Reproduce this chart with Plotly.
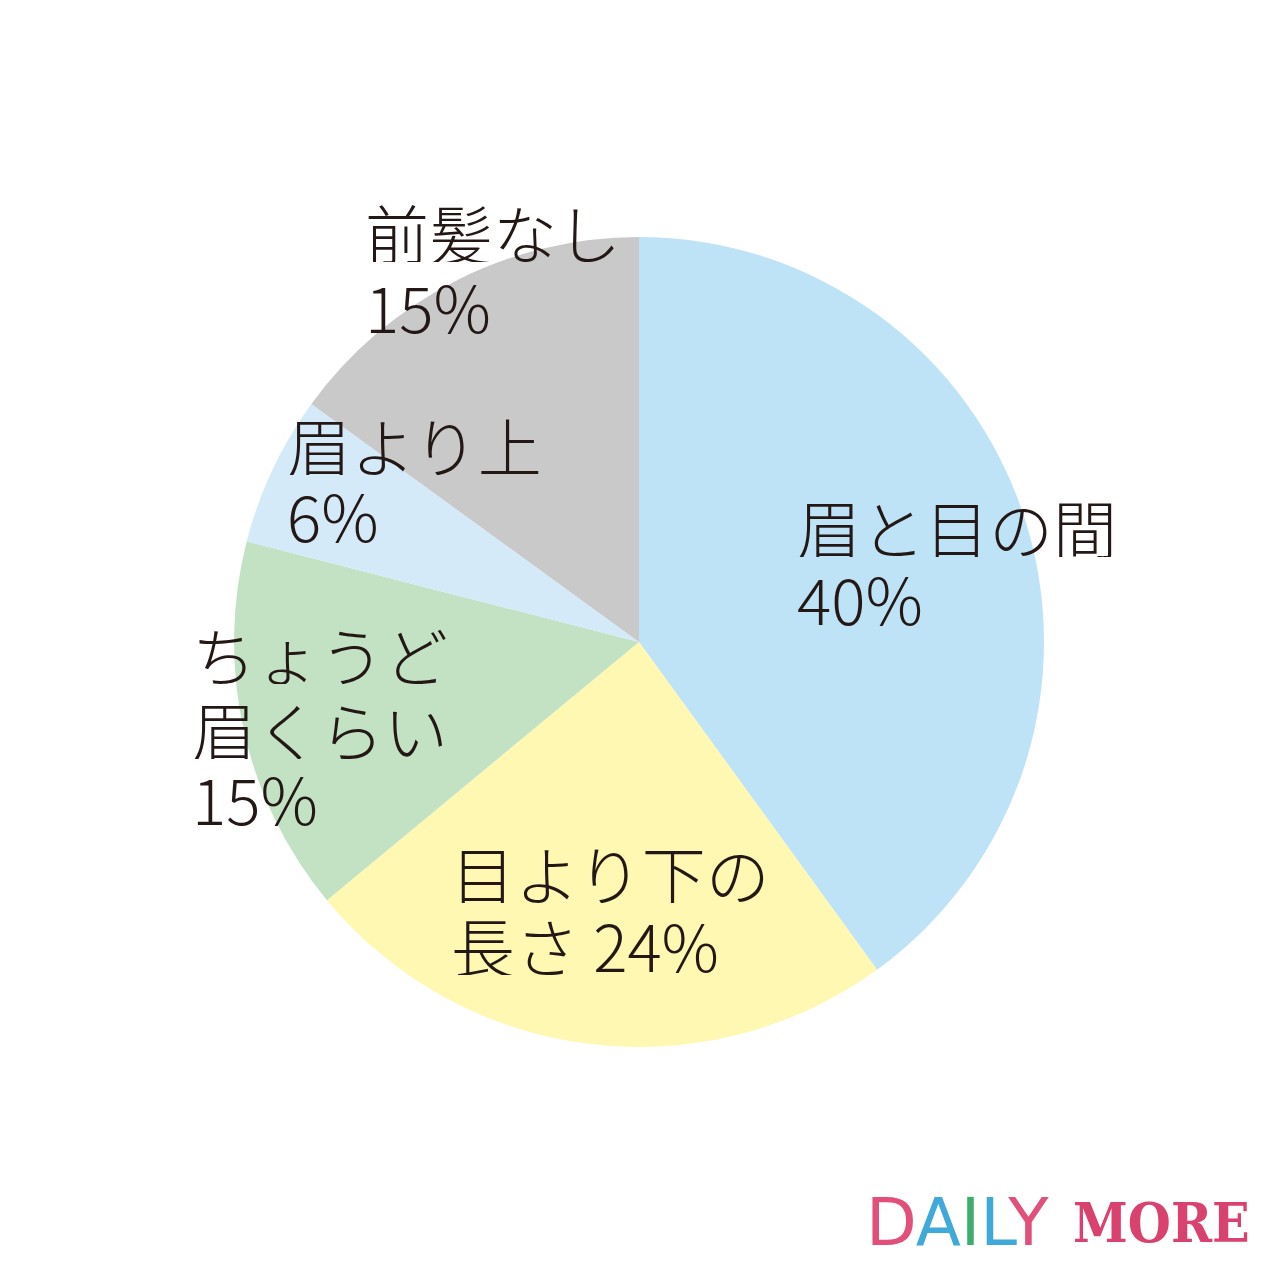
import plotly.graph_objects as go

# Data
categories = ["眉と目の間", "目より下の長さ", "ちょうど眉くらい", "眉より上", "前髪なし"]
values = [40, 24, 15, 6, 15]
label_lines = [["眉と目の間"], ["目より下の", "長さ"], ["ちょうど", "眉くらい"], ["眉より上"], ["前髪なし"]]
colors = ["#BEE3F7", "#FFF8B2", "#C3E2C4", "#D4EAF8", "#C9C9C9"]

W, H = 1280, 1277
OFF = 8  # page body margin
cx, cy, r = 639 - OFF, 642 - OFF, 405

fig = go.Figure()
fig.add_trace(go.Pie(
    labels=categories, values=values, sort=False, direction="clockwise", rotation=0,
    marker=dict(colors=colors, line=dict(width=0)),
    textinfo="none", hoverinfo="label+percent", showlegend=False,
    domain=dict(x=[(cx - r) / W, (cx + r) / W], y=[1 - (cy + r) / H, 1 - (cy - r) / H]),
))

FS = 64
font = dict(family="Noto Sans CJK JP", size=FS, color="#231815", weight=300)

# label placement (glyph left x, line center y) in page pixels
placements = {
    0: (798, [532, 603]),
    1: (452, [878, 950]),
    2: (193, [659, 734, 803]),
    3: (288, [450, 520]),
    4: (366, [237, 311]),
}

for i, (x0, ys) in placements.items():
    lines = list(label_lines[i])
    pct = f"{values[i]}%"
    if i == 1:
        lines[-1] = lines[-1] + " " + pct
    else:
        lines.append(pct)
    for line, y in zip(lines, ys):
        fx = x0 - OFF - 3
        fy = y - 14
        fig.add_annotation(
            x=fx / W, y=1 - fy / H, xref="paper", yref="paper",
            xanchor="left", yanchor="middle", valign="middle", height=62,
            text=line, showarrow=False, font=font,
        )

# Logo
daily_colors = ["#E0507A", "#3FA9D9", "#3DAE6B", "#3FA9D9", "#E0507A"]
daily = "".join(f'<span style="color:{c}">{ch}</span>' for ch, c in zip("DAILY", daily_colors))
fig.add_annotation(x=(864 - OFF) / W, y=1 - (1222 - OFF) / H, xref="paper", yref="paper",
                   xanchor="left", yanchor="middle", text=daily, showarrow=False,
                   font=dict(family="DejaVu Sans", size=66, color="#E0507A"))
fig.add_annotation(x=(1252 - OFF) / W, y=1 - (1222 - OFF) / H, xref="paper", yref="paper",
                   xanchor="right", yanchor="middle", text="MORE", showarrow=False,
                   font=dict(family="DejaVu Serif Condensed, Liberation Serif", size=55,
                             color="#D9416F", weight="bold"))

fig.update_layout(width=W, height=H, margin=dict(l=0, r=0, t=0, b=0),
                  paper_bgcolor="white", plot_bgcolor="white")
fig.write_html("out.html")
